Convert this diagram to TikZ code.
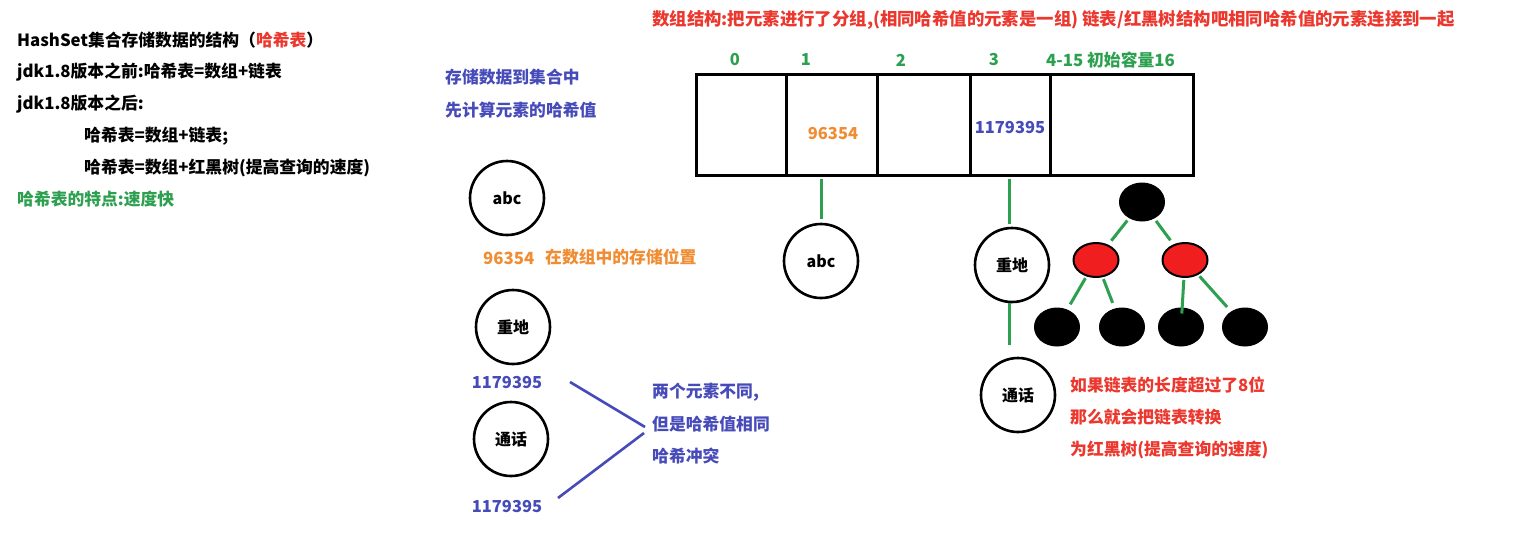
\documentclass[tikz,border=0pt]{standalone}
\usepackage{fontspec}
\setmainfont{Noto Sans CJK SC}
\usetikzlibrary{shapes.geometric}
\definecolor{redtxt}{RGB}{235,55,45}
\definecolor{greentxt}{RGB}{45,160,80}
\definecolor{bluetxt}{RGB}{70,75,185}
\definecolor{orangetxt}{RGB}{240,140,50}
\definecolor{treered}{RGB}{240,30,30}
\tikzset{
  txt/.style={anchor=west, inner sep=0pt, font=\fontsize{16.8}{19}\selectfont\bfseries},
  ctxt/.style={inner sep=0pt, font=\fontsize{16.5}{19}\selectfont\bfseries},
  elem/.style={circle, draw=black, line width=2.6pt, minimum size=74pt, inner sep=0pt, font=\fontsize{16}{19}\selectfont\bfseries},
  cell/.style={rectangle, draw=black, line width=3pt, minimum height=101pt, inner sep=0pt, anchor=north west},
  blk/.style={ellipse, draw=black, fill=black, line width=1pt, minimum width=45pt, minimum height=38pt, inner sep=0pt},
  rd/.style={ellipse, draw=black, fill=treered, line width=2pt, minimum width=45pt, minimum height=34pt, inner sep=0pt},
  gline/.style={draw=greentxt, line width=3pt},
  bline/.style={draw=bluetxt, line width=2.6pt}
}
\begin{document}
\begin{tikzpicture}[x=1pt,y=-1pt]
\useasboundingbox[fill=white] (0,0) rectangle (1521,552);
% left texts
\node[txt] (t1) at (17,40) {HashSet集合存储数据的结构（\textcolor{redtxt}{哈希表}）};
\node[txt] (t2) at (17,72) {jdk1.8版本之前:哈希表=数组+链表};
\node[txt] (t3) at (17,104) {jdk1.8版本之后:};
\node[txt] (t4) at (84,136) {哈希表=数组+链表;};
\node[txt] (t5) at (84,168) {哈希表=数组+红黑树(提高查询的速度)};
\node[txt, text=greentxt] (t6) at (17,199) {哈希表的特点:速度快};
% middle texts
\node[txt, text=bluetxt] (m1) at (445,77) {存储数据到集合中};
\node[txt, text=bluetxt] (m2) at (445,110) {先计算元素的哈希值};
\node[elem] (abc1) at (507,198) {abc};
\node[txt, text=orangetxt] (h1) at (483,258) {96354};
\node[txt, text=orangetxt] (h1t) at (545,257) {在数组中的存储位置};
\node[elem] (zd1) at (513,327) {重地};
\node[ctxt, text=bluetxt] (n1) at (507,383) {1179395};
\node[elem] (th1) at (511,439) {通话};
\node[ctxt, text=bluetxt] (n2) at (507,507) {1179395};
\coordinate (b1) at (570,382);
\coordinate (b2) at (645,427);
\coordinate (b3) at (558,498);
\coordinate (b4) at (644,433);
\draw[bline] (b1) -- (b2);
\draw[bline] (b3) -- (b4);
\node[txt, text=bluetxt] (c1) at (652,392) {两个元素不同,};
\node[txt, text=bluetxt] (c2) at (652,424) {但是哈希值相同};
\node[txt, text=bluetxt] (c3) at (652,456) {哈希冲突};
% top title
\node[txt, text=redtxt, font=\fontsize{17.4}{19}\selectfont\bfseries] (title) at (652,20) {数组结构:把元素进行了分组,(相同哈希值的元素是一组) 链表/红黑树结构吧相同哈希值的元素连接到一起};
% array
\node[cell, minimum width=90pt] (cell0) at (695,73) {};
\node[cell, minimum width=91pt] (cell1) at (785,73) {};
\node[cell, minimum width=93pt] (cell2) at (876,73) {};
\node[cell, minimum width=80pt] (cell3) at (969,73) {};
\node[cell, minimum width=143pt] (cell4) at (1049,73) {};
\node[ctxt, text=greentxt] (i0) at (735,60) {0};
\node[ctxt, text=greentxt] (i1) at (806,60) {1};
\node[ctxt, text=greentxt] (i2) at (901,60) {2};
\node[ctxt, text=greentxt] (i3) at (994,60) {3};
\node[txt, text=greentxt] (i4) at (1046,60) {4-15 初始容量16};
\node[ctxt, text=orangetxt] (v1) at (833,134) {96354};
\node[ctxt, text=bluetxt] (v3) at (1010,128) {1179395};
% chains
\node[elem] (abc2) at (821,261) {abc};
\node[elem] (zd2) at (1012,265) {重地};
\node[elem] (th2) at (1018,395) {通话};
\draw[gline, shorten <=2pt, shorten >=4pt] (abc2 |- cell1.south) -- (abc2.north);
\draw[gline, shorten <=2pt, shorten >=3pt] ([xshift=-3pt]zd2 |- cell3.south) -- ([xshift=-3pt]zd2.north);
\draw[gline, shorten >=12pt] ([xshift=-3pt]zd2.south) -- ([xshift=-3pt]zd2.south |- th2.north);
% tree
\node[blk] (root) at (1142,202) {};
\node[rd] (rl) at (1096,260) {};
\node[rd] (rr) at (1185,260) {};
\node[blk] (l1) at (1057,327) {};
\node[blk] (l2) at (1122,327) {};
\node[blk] (l3) at (1181,327) {};
\node[blk] (l4) at (1245,327) {};
\draw[gline, shorten <=3pt, shorten >=5pt] (root) -- (rl);
\draw[gline, shorten <=3pt, shorten >=5pt] (root) -- (rr);
\draw[gline, shorten <=2pt, shorten >=6pt] (rl) -- (l1);
\draw[gline, shorten <=2pt, shorten >=6pt] (rl) -- (l2);
\draw[gline, shorten <=2pt, shorten >=-6pt] (rr) -- (l3);
\draw[gline, shorten <=2pt, shorten >=6pt] (rr) -- (l4);
% red explanation
\node[txt, text=redtxt] (r1) at (1070,385) {如果链表的长度超过了8位};
\node[txt, text=redtxt] (r2) at (1070,417) {那么就会把链表转换};
\node[txt, text=redtxt] (r3) at (1070,450) {为红黑树(提高查询的速度)};
\end{tikzpicture}
\end{document}
